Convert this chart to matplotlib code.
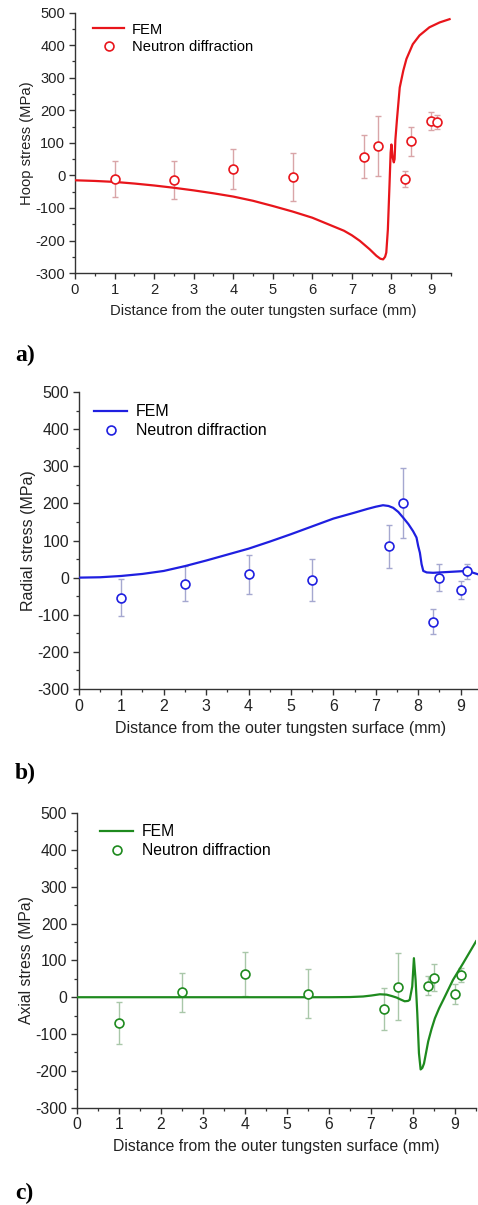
#!/usr/bin/env python3
"""Hoop / radial / axial residual stress: FEM vs neutron diffraction."""

import matplotlib
matplotlib.use("Agg")
import matplotlib.pyplot as plt
from matplotlib.ticker import MultipleLocator

# ------------------------------------------------------------------
# Data
# ------------------------------------------------------------------
ND_X = [1.0, 2.5, 4.0, 5.5, 7.3, 7.65, 8.35, 8.5, 9.0, 9.15]

HOOP_ND = [-10, -14, 20, -5, 58, 91, -10, 105, 168, 164]
HOOP_ERR = [55, 57, 61, 73, 66, 93, 25, 45, 27, 22]
HOOP_FEM_X = [0, 0.5, 1, 1.5, 2, 2.5, 3, 3.5, 4, 4.5, 5, 5.5, 6, 6.5, 6.8,
              7.0, 7.2, 7.45, 7.62, 7.72, 7.79, 7.84, 7.87, 7.91, 7.95,
              7.98, 8.0, 8.03, 8.06, 8.08, 8.1, 8.14, 8.21, 8.3, 8.38,
              8.54, 8.71, 8.96, 9.22, 9.47]
HOOP_FEM = [-15, -17, -20, -25, -31, -38, -46, -55, -65, -78, -94, -111,
            -130, -155, -170, -184, -201, -227, -247, -256, -258, -250,
            -237, -166, -33, 70, 95, 55, 40, 50, 110, 172, 270, 322, 358,
            403, 430, 455, 470, 480]

RADIAL_ND = [-54, -16, 9, -7, 84, 202, -119, 0, -34, 17]
RADIAL_ERR = [50, 46, 52, 57, 57, 94, 34, 37, 24, 20]
RADIAL_FEM_X = [0, 0.5, 1, 1.5, 2, 2.5, 3, 3.5, 4, 4.5, 5, 5.5, 6, 6.5,
                6.8, 7.0, 7.17, 7.3, 7.41, 7.53, 7.65, 7.77, 7.88, 7.96,
                8.0, 8.04, 8.08, 8.12, 8.2, 8.35, 8.67, 8.98, 9.14, 9.3,
                9.41, 9.5]
RADIAL_FEM = [0, 1, 4.5, 10, 18, 31, 46, 62, 78, 97, 117, 138, 159, 175,
              185, 191, 195, 193, 188, 177, 161, 144, 125, 108, 85, 67, 36,
              18, 14, 13, 15, 17, 18, 13, 9, 8]

AXIAL_ND = [-70, 14, 62, 10, -32, 28, 31, 53, 9, 60]
AXIAL_ERR = [58, 53, 60, 66, 57, 91, 26, 36, 27, 20]
AXIAL_FEM_X = [0, 1, 2, 3, 4, 5, 6, 6.5, 6.81, 7.0, 7.21, 7.37, 7.5, 7.61,
               7.7, 7.8, 7.88, 7.92, 7.98, 8.02, 8.06, 8.1, 8.14, 8.18,
               8.22, 8.26, 8.31, 8.36, 8.44, 8.52, 8.62, 8.72, 8.95, 9.19,
               9.5]
AXIAL_FEM = [0, 0, 0, 0, 0, 0, 0, 0.5, 2, 4.5, 8, 7, 3, -1, -6, -11, -10,
             -7, 29, 106, 47, -43, -152, -196, -192, -180, -150, -120, -86,
             -57, -30, -7, 47, 92, 152]

XTICKS = [0, 1, 2, 3, 4, 5, 6, 7, 8, 9]
YTICKS = [-300, -200, -100, 0, 100, 200, 300, 400, 500]

# ------------------------------------------------------------------
INK = "#222222"
AXIS = "#333333"

PANELS = [
    dict(fem_x=HOOP_FEM_X, fem=HOOP_FEM, nd=HOOP_ND, err=HOOP_ERR,
         color="#E8151B", ecolor="#D9A5A8", ylabel="Hoop stress (MPa)",
         rect=[0.157, 0.7734, 0.786, 0.2161], fs=10.6,
         leg=(0.048, 0.962), letter="a)", letter_y=355),
    dict(fem_x=RADIAL_FEM_X, fem=RADIAL_FEM, nd=RADIAL_ND, err=RADIAL_ERR,
         color="#1F1FE0", ecolor="#A5A8D0", ylabel="Radial stress (MPa)",
         rect=[0.165, 0.4282, 0.843, 0.2465], fs=11.5,
         leg=(0.037, 0.958), letter="b)", letter_y=773),
    dict(fem_x=AXIAL_FEM_X, fem=AXIAL_FEM, nd=AXIAL_ND, err=AXIAL_ERR,
         color="#1E8A1E", ecolor="#A9C7A9", ylabel="Axial stress (MPa)",
         rect=[0.161, 0.0807, 0.835, 0.2446], fs=11.3,
         leg=(0.058, 0.962), letter="c)", letter_y=1193),
]


def draw_panel(fig, p):
    ax = fig.add_axes(p["rect"])
    ax.errorbar(ND_X, p["nd"], yerr=p["err"], fmt="none",
                ecolor=p["ecolor"], elinewidth=1.0, capsize=2.5,
                capthick=1.0, zorder=2)
    fem_line, = ax.plot(p["fem_x"], p["fem"], color=p["color"], lw=1.6,
                        zorder=3, label="FEM", solid_joinstyle="round")
    pts, = ax.plot(ND_X, p["nd"], ls="none", marker="o", ms=6.4,
                   mfc="white", mec=p["color"], mew=1.2, zorder=4,
                   label="Neutron diffraction")

    ax.set_xlim(0, 9.5)
    ax.set_ylim(-300, 500)
    ax.set_xticks(XTICKS)
    ax.set_yticks(YTICKS)
    ax.xaxis.set_minor_locator(MultipleLocator(0.5))
    ax.yaxis.set_minor_locator(MultipleLocator(50))

    for s in ("top", "right"):
        ax.spines[s].set_visible(False)
    for s in ("left", "bottom"):
        ax.spines[s].set_color(AXIS)
        ax.spines[s].set_linewidth(1.0)
    ax.tick_params(which="major", length=4, width=1.0, colors=AXIS,
                   labelsize=p["fs"], labelcolor=INK, pad=3)
    ax.tick_params(which="minor", length=2.5, width=0.9, colors=AXIS)

    ax.set_xlabel("Distance from the outer tungsten surface (mm)",
                  fontsize=p["fs"], color=INK, labelpad=5)
    ax.set_ylabel(p["ylabel"], fontsize=p["fs"], color=INK, labelpad=1)

    ax.legend(handles=[fem_line, pts], loc="upper left",
              bbox_to_anchor=p["leg"], frameon=False, fontsize=p["fs"],
              handlelength=2.1, handletextpad=0.55, labelspacing=0.25,
              borderpad=0, borderaxespad=0)

    fig.text(15 / 478, 1 - p["letter_y"] / 1205, p["letter"],
             family="Liberation Serif", fontweight="bold", fontsize=17,
             ha="left", va="center", color="black")
    return ax


def main():
    plt.rcParams.update({
        "font.family": ["Liberation Sans", "DejaVu Sans"],
        "axes.linewidth": 1.0,
        "axes.unicode_minus": False,
    })
    fig = plt.figure(figsize=(4.78, 12.05), dpi=100, facecolor="white")
    for p in PANELS:
        draw_panel(fig, p)
    fig.savefig("out.png", dpi=100, facecolor="white")


if __name__ == "__main__":
    main()
